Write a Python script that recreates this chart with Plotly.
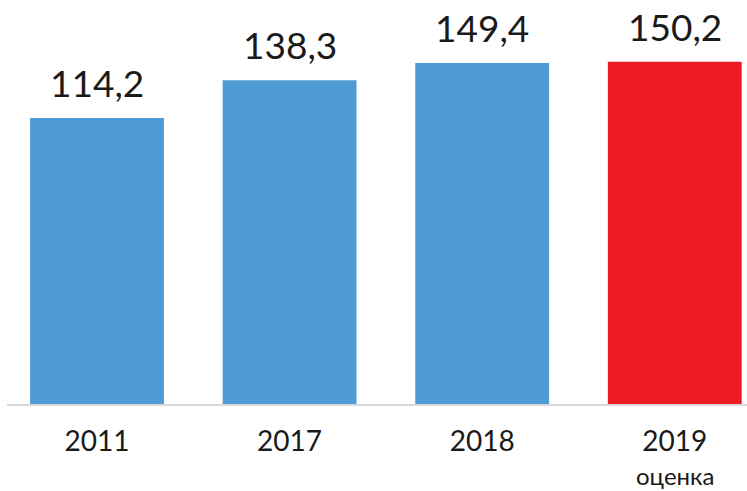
import plotly.graph_objects as go

years = ["2011", "2017", "2018", "2019"]
values = [114.2, 138.3, 149.4, 150.2]
colors = ["#4F9BD5", "#4F9BD5", "#4F9BD5", "#ED1C24"]
note = "оценка"

# axis of the original does not start at zero
axis_min = -68.8
axis_max = 189.65

labels = [f"{v:.1f}".replace(".", ",") for v in values]
FONT = "Lato, Open Sans, sans-serif"

fig = go.Figure()
fig.add_trace(go.Bar(
    x=years,
    y=[v - axis_min for v in values],
    base=axis_min,
    marker=dict(color=colors, line=dict(width=0)),
    width=0.695,
    hoverinfo="skip",
))

for i, (v, lab) in enumerate(zip(values, labels)):
    fig.add_annotation(x=i, y=v, xref="x", yref="y", text=lab, showarrow=False,
                       yanchor="bottom", yshift=11,
                       font=dict(family=FONT, size=37, color="#1a1a1a"))

fig.add_annotation(x=len(years) - 1, y=0, xref="x", yref="paper", text=note, showarrow=False,
                   yanchor="middle", yshift=-71, borderpad=0,
                   font=dict(family=FONT, size=24, color="#1a1a1a"))

fig.update_layout(
    width=747, height=491,
    margin=dict(l=7, r=0, t=0, b=87),
    paper_bgcolor="white", plot_bgcolor="white",
    showlegend=False,
    xaxis=dict(
        type="category",
        range=[-0.4673, 3.375],
        showline=True, linecolor="#d9d9d9", linewidth=2,
        showgrid=False, zeroline=False, ticks="",
        ticklabelstandoff=11,
        tickfont=dict(family=FONT, size=28, color="#1a1a1a"),
    ),
    yaxis=dict(
        range=[axis_min, axis_max],
        showticklabels=False, showline=False, ticks="",
        showgrid=False, zeroline=False,
    ),
)

fig.write_html("out.html", config={"displayModeBar": False},
               post_script="document.body.style.margin='0';document.body.style.overflow='hidden';")
